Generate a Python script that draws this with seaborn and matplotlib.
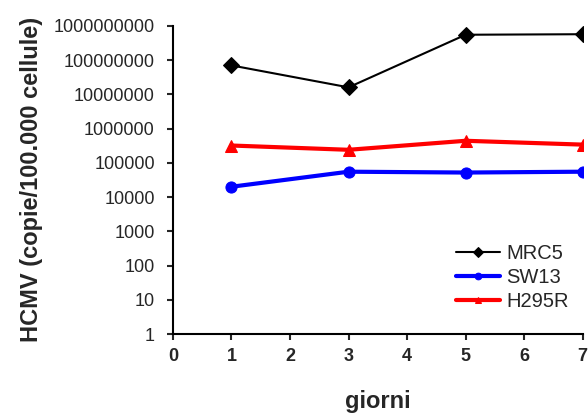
import matplotlib
matplotlib.use("Agg")
import matplotlib.pyplot as plt
import pandas as pd
import seaborn as sns

# data
giorni = [1, 3, 5, 7]
mrc5 = [7.0e7, 1.6e7, 5.5e8, 5.7e8]
sw13 = [2.0e4, 5.5e4, 5.2e4, 5.5e4]
h295r = [3.2e5, 2.4e5, 4.4e5, 3.4e5]
serie = ["MRC5", "SW13", "H295R"]
yticks = [1, 10, 100, 1000, 10000, 100000, 1000000, 10000000, 100000000, 1000000000]

df = pd.DataFrame({
    "giorni": giorni * 3,
    "valore": mrc5 + sw13 + h295r,
    "linea": [s for s in serie for _ in giorni],
})

sns.set_style("ticks")
plt.rcParams["font.family"] = ["Liberation Sans", "DejaVu Sans"]

fig = plt.figure(figsize=(5.88, 4.17), dpi=100)
ax = fig.add_axes([0.294, 0.199, 0.697, 0.739])

colori = {"MRC5": "black", "SW13": "#0000ff", "H295R": "#ff0000"}
marker = {"MRC5": "D", "SW13": "o", "H295R": "^"}
spessori = {"MRC5": 1.5, "SW13": 3, "H295R": 3}

for s in serie:
    sub = df[df["linea"] == s]
    sns.lineplot(data=sub, x="giorni", y="valore", ax=ax, color=colori[s],
                 marker=marker[s], markersize=8, markeredgecolor=colori[s],
                 linewidth=spessori[s], label=s)

ax.set_yscale("log")
ax.set_ylim(1, 1e9)
ax.set_xlim(0, 7)
ax.set_xticks(range(8))
ax.set_yticks(yticks)
ax.set_yticklabels([str(v) for v in yticks])
ax.minorticks_off()
ax.tick_params(axis="both", labelsize=13, width=1.5, length=4, direction="out")
ax.tick_params(axis="y", pad=9)
ax.tick_params(axis="x", pad=6)
for lab in ax.get_xticklabels():
    lab.set_fontweight("bold")
sns.despine(ax=ax)
for sp in ["left", "bottom"]:
    ax.spines[sp].set_linewidth(1.5)
    ax.spines[sp].set_color("black")

ax.set_xlabel("giorni", fontsize=17, fontweight="bold", labelpad=18)
ax.set_ylabel("HCMV (copie/100.000 cellule)", fontsize=17, fontweight="bold", labelpad=8)

leg = ax.legend(loc="lower right", frameon=False, fontsize=14.5, handlelength=2.2,
                borderaxespad=0.3, labelspacing=0.25, handletextpad=0.3,
                markerscale=0.6, bbox_to_anchor=(1.0, 0.03))

fig.savefig("out.png", dpi=100)
